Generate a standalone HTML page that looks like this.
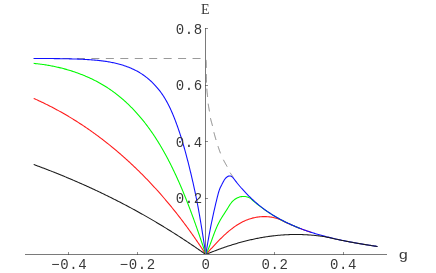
<!DOCTYPE html>
<html><head><meta charset="utf-8"><title>plot</title>
<style>
html,body{margin:0;padding:0;background:#fff;}
body{width:436px;height:273px;overflow:hidden;position:relative;font-family:"Liberation Mono",monospace;}
svg{position:absolute;left:0;top:0;will-change:transform;}
text{font-family:"Liberation Mono",monospace;font-size:14px;letter-spacing:0.6px;fill:#383838;}
</style></head><body>
<svg width="436" height="273" viewBox="0 0 436 273">
<rect width="436" height="273" fill="#fff"/>
<g fill="none" stroke="#9a9a9a" stroke-width="1">
<path d="M33.60,58.5 L41.60,58.5 M48.05,58.5 L56.05,58.5 M62.50,58.5 L70.50,58.5 M76.95,58.5 L84.95,58.5 M91.40,58.5 L99.40,58.5 M105.85,58.5 L113.85,58.5 M120.30,58.5 L128.30,58.5 M134.75,58.5 L142.75,58.5 M149.20,58.5 L157.20,58.5 M163.65,58.5 L171.65,58.5 M178.10,58.5 L186.10,58.5 M192.55,58.5 L200.55,58.5 "/>
</g>
<g fill="none" stroke-width="1.08" stroke-linejoin="round">
<path stroke="#ff1a1a" d="M33.70,98.40 L34.62,98.81 L35.54,99.22 L36.45,99.63 L37.37,100.05 L38.28,100.47 L39.19,100.89 L40.10,101.32 L41.01,101.74 L41.92,102.17 L42.83,102.61 L43.73,103.04 L44.63,103.48 L45.53,103.92 L46.43,104.37 L47.33,104.81 L48.23,105.26 L49.12,105.71 L50.01,106.17 L50.90,106.63 L51.79,107.09 L52.68,107.55 L53.57,108.02 L54.45,108.48 L55.34,108.95 L56.22,109.43 L57.10,109.90 L57.98,110.38 L58.85,110.86 L59.73,111.35 L60.60,111.83 L61.48,112.32 L62.35,112.82 L63.21,113.31 L64.08,113.81 L64.95,114.31 L65.81,114.81 L66.67,115.31 L67.54,115.82 L68.39,116.33 L69.25,116.84 L70.11,117.36 L70.96,117.87 L71.82,118.39 L72.67,118.91 L73.52,119.44 L74.36,119.97 L75.21,120.49 L76.06,121.03 L76.90,121.56 L77.74,122.10 L78.58,122.64 L79.42,123.18 L80.26,123.72 L81.09,124.27 L81.93,124.82 L82.76,125.37 L83.59,125.92 L84.42,126.48 L85.24,127.03 L86.07,127.60 L86.89,128.16 L87.72,128.72 L88.54,129.29 L89.36,129.86 L90.17,130.43 L90.99,131.01 L91.80,131.58 L92.62,132.16 L93.43,132.74 L94.24,133.33 L95.05,133.91 L95.85,134.50 L96.66,135.09 L97.46,135.68 L98.26,136.28 L99.06,136.87 L99.86,137.47 L100.66,138.07 L101.45,138.68 L102.24,139.28 L103.04,139.89 L103.83,140.50 L104.61,141.11 L105.40,141.72 L106.19,142.34 L106.97,142.96 L107.75,143.58 L108.53,144.20 L109.31,144.83 L110.09,145.45 L110.86,146.08 L111.64,146.71 L112.41,147.34 L113.18,147.98 L113.95,148.62 L114.72,149.25 L115.48,149.90 L116.25,150.54 L117.01,151.18 L117.77,151.83 L118.53,152.48 L119.29,153.13 L120.04,153.78 L120.80,154.44 L121.55,155.09 L122.30,155.75 L123.05,156.41 L123.80,157.08 L124.55,157.74 L125.29,158.41 L126.03,159.07 L126.78,159.75 L127.52,160.42 L128.25,161.09 L128.99,161.77 L129.72,162.44 L130.46,163.12 L131.19,163.81 L131.92,164.49 L132.65,165.17 L133.37,165.86 L134.10,166.55 L134.82,167.24 L135.55,167.93 L136.27,168.63 L136.98,169.32 L137.70,170.02 L138.42,170.72 L139.13,171.42 L139.84,172.12 L140.55,172.83 L141.26,173.53 L141.97,174.24 L142.67,174.95 L143.38,175.66 L144.08,176.37 L144.78,177.09 L145.48,177.81 L146.18,178.52 L146.87,179.24 L147.57,179.96 L148.26,180.69 L148.95,181.41 L149.64,182.14 L150.33,182.87 L151.01,183.59 L151.70,184.33 L152.38,185.06 L153.06,185.79 L153.74,186.53 L154.42,187.27 L155.09,188.00 L155.77,188.74 L156.44,189.49 L157.11,190.23 L157.78,190.98 L158.45,191.72 L159.11,192.47 L159.78,193.22 L160.44,193.97 L161.10,194.72 L161.76,195.48 L162.42,196.23 L163.08,196.99 L163.73,197.75 L164.38,198.51 L165.03,199.27 L165.68,200.03 L166.33,200.79 L166.98,201.56 L167.62,202.33 L168.27,203.09 L168.91,203.86 L169.55,204.63 L170.19,205.41 L170.82,206.18 L171.46,206.95 L172.09,207.73 L172.72,208.51 L173.35,209.29 L173.98,210.07 L174.61,210.85 L175.23,211.63 L175.85,212.41 L176.48,213.20 L177.10,213.99 L177.71,214.77 L178.33,215.56 L178.94,216.35 L179.56,217.14 L180.17,217.94 L180.78,218.73 L181.39,219.52 L181.99,220.32 L182.60,221.12 L183.20,221.92 L183.80,222.72 L184.40,223.52 L185.00,224.32 L185.60,225.12 L186.19,225.93 L186.79,226.73 L187.38,227.54 L187.97,228.35 L188.56,229.16 L189.14,229.97 L189.73,230.78 L190.31,231.59 L190.89,232.40 L191.47,233.22 L192.05,234.03 L192.63,234.85 L193.20,235.66 L193.78,236.48 L194.35,237.30 L194.92,238.12 L195.49,238.94 L196.05,239.76 L196.62,240.59 L197.18,241.41 L197.74,242.24 L198.30,243.06 L198.86,243.89 L199.42,244.72 L199.97,245.55 L200.53,246.38 L201.08,247.21 L201.63,248.04 L202.18,248.87 L202.72,249.70 L203.27,250.54 L203.81,251.37 L204.35,252.21 L204.89,253.05 L205.43,253.88 L205.83,254.50 M205.83,254.50 L206.48,253.79 L207.14,253.08 L207.79,252.37 L208.45,251.65 L209.11,250.93 L209.77,250.20 L210.44,249.47 L211.11,248.74 L211.78,248.01 L212.46,247.27 L213.14,246.54 L213.82,245.80 L214.50,245.06 L215.19,244.33 L215.88,243.59 L216.58,242.86 L217.28,242.12 L217.98,241.39 L218.69,240.66 L219.40,239.94 L220.12,239.22 L220.84,238.50 L221.56,237.78 L222.29,237.07 L223.03,236.37 L223.77,235.67 L224.51,234.97 L225.26,234.29 L226.01,233.61 L226.77,232.93 L227.53,232.27 L228.30,231.61 L229.07,230.96 L229.85,230.32 L230.64,229.68 L231.43,229.06 L232.22,228.45 L233.03,227.85 L233.83,227.26 L234.65,226.68 L235.47,226.11 L236.29,225.55 L237.13,225.01 L237.97,224.48 L238.81,223.97 L239.67,223.46 L240.52,222.98 L241.39,222.50 L242.26,222.04 L243.14,221.60 L244.03,221.18 L244.93,220.77 L245.83,220.37 L246.74,220.00 L247.65,219.64 L248.58,219.30 L249.51,218.98 L250.45,218.68 L251.40,218.40 L252.35,218.13 L253.32,217.89 L254.28,217.67 L255.26,217.47 L256.24,217.28 L257.22,217.12 L258.21,216.98 L259.21,216.86 L260.20,216.77 L261.20,216.69 L262.20,216.64 L263.21,216.60 L264.21,216.59 L265.21,216.60 L266.22,216.64 L267.22,216.69 L268.22,216.77 L269.22,216.87 L270.22,217.00 L271.22,217.15 L272.21,217.32 L273.20,217.52 L274.18,217.74 L275.16,217.98 L276.13,218.25 L277.10,218.54 L278.06,218.86 L279.02,219.20 L279.96,219.57 L280.90,219.96 L281.00,220.00 L282.00,220.60 L283.00,221.08 L284.00,221.55 L285.00,222.02 L286.00,222.49 L287.00,222.94 L288.00,223.40 L289.00,223.85 L290.00,224.29 L291.00,224.73 L292.00,225.16 L293.00,225.59 L294.00,226.01 L295.00,226.42 L296.00,226.83 L297.00,227.23 L298.00,227.63 L299.00,228.02 L300.00,228.40 L301.00,228.78 L302.00,229.16 L303.00,229.52 L304.00,229.89 L305.00,230.24 L306.00,230.60 L307.00,230.94 L308.00,231.28 L309.00,231.62 L310.00,231.95 L311.00,232.28 L312.00,232.60"/>
<path stroke="#00fa00" d="M33.70,63.40 L34.69,63.50 L35.69,63.60 L36.69,63.71 L37.68,63.82 L38.68,63.93 L39.67,64.05 L40.67,64.18 L41.66,64.31 L42.66,64.45 L43.65,64.59 L44.65,64.74 L45.64,64.90 L46.63,65.06 L47.62,65.22 L48.61,65.39 L49.60,65.57 L50.59,65.75 L51.58,65.93 L52.57,66.13 L53.56,66.32 L54.54,66.53 L55.53,66.73 L56.51,66.95 L57.49,67.17 L58.47,67.39 L59.45,67.62 L60.43,67.86 L61.41,68.10 L62.38,68.35 L63.35,68.60 L64.33,68.86 L65.30,69.12 L66.27,69.39 L67.23,69.67 L68.20,69.95 L69.16,70.24 L70.12,70.53 L71.08,70.83 L72.04,71.13 L72.99,71.44 L73.95,71.76 L74.90,72.08 L75.85,72.40 L76.79,72.74 L77.74,73.08 L78.68,73.42 L79.62,73.77 L80.55,74.13 L81.49,74.49 L82.42,74.85 L83.35,75.23 L84.27,75.61 L85.20,75.99 L86.12,76.38 L87.04,76.78 L87.95,77.18 L88.86,77.59 L89.77,78.01 L90.67,78.43 L91.58,78.85 L92.48,79.29 L93.37,79.73 L94.26,80.17 L95.15,80.62 L96.04,81.08 L96.92,81.54 L97.80,82.01 L98.67,82.49 L99.54,82.97 L100.41,83.45 L101.27,83.95 L102.13,84.45 L102.99,84.95 L103.84,85.46 L104.69,85.98 L105.53,86.51 L106.37,87.04 L107.21,87.57 L108.04,88.11 L108.86,88.66 L109.69,89.22 L110.50,89.78 L111.32,90.35 L112.13,90.92 L112.93,91.50 L113.73,92.08 L114.53,92.67 L115.32,93.27 L116.11,93.87 L116.90,94.48 L117.68,95.09 L118.45,95.71 L119.23,96.33 L119.99,96.96 L120.76,97.60 L121.51,98.24 L122.27,98.88 L123.02,99.53 L123.77,100.19 L124.51,100.85 L125.25,101.52 L125.98,102.19 L126.71,102.86 L127.44,103.54 L128.16,104.23 L128.87,104.92 L129.59,105.61 L130.29,106.31 L131.00,107.01 L131.70,107.72 L132.39,108.43 L133.09,109.15 L133.77,109.87 L134.46,110.60 L135.14,111.33 L135.81,112.06 L136.48,112.80 L137.15,113.54 L137.81,114.28 L138.47,115.03 L139.12,115.79 L139.77,116.55 L140.42,117.31 L141.06,118.07 L141.70,118.84 L142.33,119.61 L142.96,120.39 L143.59,121.16 L144.21,121.95 L144.82,122.73 L145.44,123.52 L146.05,124.31 L146.65,125.11 L147.25,125.91 L147.85,126.71 L148.44,127.52 L149.03,128.32 L149.62,129.13 L150.20,129.95 L150.78,130.77 L151.35,131.59 L151.92,132.41 L152.49,133.23 L153.05,134.06 L153.61,134.89 L154.17,135.73 L154.72,136.57 L155.27,137.40 L155.82,138.25 L156.36,139.09 L156.90,139.94 L157.43,140.79 L157.96,141.64 L158.49,142.49 L159.02,143.35 L159.54,144.21 L160.06,145.07 L160.57,145.93 L161.08,146.80 L161.59,147.66 L162.10,148.53 L162.60,149.40 L163.10,150.28 L163.59,151.15 L164.09,152.03 L164.57,152.91 L165.06,153.79 L165.55,154.67 L166.03,155.56 L166.50,156.44 L166.98,157.33 L167.45,158.22 L167.92,159.11 L168.38,160.00 L168.85,160.89 L169.31,161.79 L169.77,162.68 L170.22,163.58 L170.67,164.48 L171.12,165.38 L171.57,166.28 L172.01,167.18 L172.46,168.09 L172.89,168.99 L173.33,169.89 L173.77,170.80 L174.20,171.71 L174.63,172.62 L175.05,173.52 L175.48,174.43 L175.90,175.34 L176.32,176.26 L176.74,177.17 L177.15,178.08 L177.56,178.99 L177.97,179.91 L178.38,180.82 L178.79,181.73 L179.19,182.65 L179.59,183.56 L179.99,184.48 L180.39,185.40 L180.78,186.31 L181.18,187.23 L181.57,188.15 L181.96,189.07 L182.34,189.99 L182.73,190.91 L183.11,191.83 L183.49,192.75 L183.87,193.67 L184.25,194.59 L184.63,195.52 L185.00,196.44 L185.38,197.36 L185.75,198.29 L186.12,199.21 L186.48,200.14 L186.85,201.06 L187.21,201.99 L187.58,202.91 L187.94,203.84 L188.30,204.77 L188.66,205.70 L189.01,206.63 L189.37,207.56 L189.72,208.49 L190.07,209.42 L190.42,210.35 L190.77,211.28 L191.12,212.21 L191.47,213.14 L191.82,214.08 L192.16,215.01 L192.50,215.94 L192.85,216.88 L193.19,217.81 L193.53,218.75 L193.87,219.69 L194.21,220.62 L194.54,221.56 L194.88,222.50 L195.21,223.44 L195.55,224.37 L195.88,225.31 L196.21,226.25 L196.54,227.19 L196.87,228.13 L197.20,229.08 L197.53,230.02 L197.86,230.96 L198.19,231.90 L198.51,232.85 L198.84,233.79 L199.17,234.73 L199.49,235.68 L199.81,236.62 L200.14,237.57 L200.46,238.52 L200.78,239.46 L201.10,240.41 L201.43,241.36 L201.75,242.31 L202.07,243.26 L202.39,244.21 L202.71,245.16 L203.03,246.11 L203.35,247.06 L203.67,248.01 L203.98,248.96 L204.30,249.91 L204.62,250.87 L204.94,251.82 L205.26,252.77 L205.58,253.73 L205.83,254.50 M205.83,254.50 L206.27,253.60 L206.70,252.70 L207.12,251.79 L207.53,250.88 L207.92,249.96 L208.31,249.04 L208.70,248.11 L209.07,247.19 L209.44,246.25 L209.80,245.32 L210.16,244.39 L210.51,243.45 L210.86,242.51 L211.21,241.57 L211.55,240.63 L211.90,239.69 L212.24,238.74 L212.58,237.80 L212.93,236.86 L213.27,235.92 L213.62,234.98 L213.97,234.04 L214.32,233.11 L214.68,232.18 L215.05,231.24 L215.42,230.32 L215.79,229.39 L216.17,228.47 L216.57,227.55 L216.97,226.64 L217.38,225.73 L217.79,224.83 L218.23,223.93 L218.67,223.03 L219.12,222.15 L219.59,221.27 L220.07,220.39 L220.57,219.52 L221.08,218.66 L221.60,217.81 L222.13,216.96 L222.66,216.11 L223.21,215.26 L223.75,214.42 L224.30,213.58 L224.85,212.74 L225.40,211.90 L225.94,211.06 L226.48,210.22 L227.01,209.37 L227.54,208.52 L228.05,207.67 L228.57,206.81 L229.09,205.97 L229.62,205.13 L230.18,204.31 L230.76,203.50 L231.37,202.72 L232.01,201.96 L232.69,201.23 L233.40,200.54 L234.16,199.89 L234.96,199.29 L235.79,198.73 L236.66,198.22 L237.55,197.78 L238.48,197.39 L239.43,197.06 L240.39,196.80 L241.37,196.61 L242.36,196.48 L243.35,196.42 L244.34,196.43 L245.33,196.52 L246.30,196.68 L247.26,196.92 L248.19,197.23 L249.10,197.63 L249.98,198.10 L250.83,198.67 L251.63,199.32 L252.40,200.05 L252.80,200.50 L253.80,201.23 L254.80,202.09 L255.80,202.93 L256.80,203.76 L257.80,204.57 L258.80,205.37 L259.80,206.15 L260.80,206.92 L261.80,207.68 L262.80,208.42 L263.80,209.14 L264.80,209.85 L265.80,210.55 L266.80,211.24 L267.80,211.92 L268.80,212.58 L269.80,213.23 L270.80,213.87 L271.80,214.49 L272.80,215.11 L273.80,215.71 L274.80,216.31 L275.80,216.89 L276.80,217.47 L277.80,218.03 L278.80,218.58 L279.80,219.13 L280.80,219.66 L281.80,220.19 L282.80,220.71 L283.80,221.22 L284.80,221.72 L285.80,222.21 L286.80,222.69 L287.80,223.17 L288.80,223.63 L289.80,224.09 L290.80,224.55 L291.80,224.99 L292.80,225.43 L293.80,225.86 L294.80,226.28 L295.80,226.70 L296.80,227.11 L297.80,227.51 L298.80,227.91 L299.80,228.30 L300.00,228.38"/>
<path stroke="#1010ff" d="M33.70,58.50 L34.67,58.50 L35.63,58.50 L36.60,58.51 L37.57,58.51 L38.55,58.51 L39.53,58.51 L40.50,58.52 L41.48,58.52 L42.47,58.52 L43.45,58.53 L44.44,58.53 L45.43,58.53 L46.42,58.54 L47.41,58.54 L48.41,58.55 L49.40,58.55 L50.40,58.56 L51.40,58.57 L52.40,58.58 L53.40,58.58 L54.40,58.59 L55.41,58.60 L56.41,58.61 L57.42,58.63 L58.43,58.64 L59.44,58.65 L60.45,58.67 L61.46,58.68 L62.47,58.70 L63.48,58.72 L64.50,58.73 L65.51,58.75 L66.52,58.78 L67.54,58.80 L68.55,58.82 L69.57,58.85 L70.59,58.88 L71.60,58.90 L72.62,58.93 L73.64,58.96 L74.65,59.00 L75.67,59.03 L76.69,59.07 L77.70,59.11 L78.72,59.15 L79.74,59.19 L80.75,59.23 L81.77,59.28 L82.79,59.32 L83.80,59.37 L84.81,59.42 L85.83,59.48 L86.84,59.54 L87.85,59.60 L88.87,59.66 L89.88,59.72 L90.89,59.79 L91.90,59.87 L92.90,59.94 L93.91,60.03 L94.92,60.11 L95.92,60.20 L96.92,60.30 L97.92,60.39 L98.93,60.50 L99.92,60.61 L100.92,60.72 L101.92,60.85 L102.91,60.97 L103.90,61.11 L104.89,61.25 L105.88,61.39 L106.87,61.54 L107.85,61.70 L108.84,61.87 L109.82,62.04 L110.80,62.22 L111.77,62.41 L112.75,62.61 L113.72,62.81 L114.69,63.03 L115.65,63.25 L116.62,63.48 L117.58,63.72 L118.54,63.97 L119.49,64.22 L120.44,64.49 L121.40,64.77 L122.34,65.05 L123.29,65.35 L124.23,65.66 L125.16,65.97 L126.10,66.30 L127.03,66.64 L127.95,66.99 L128.87,67.35 L129.79,67.72 L130.70,68.10 L131.61,68.49 L132.51,68.90 L133.41,69.32 L134.30,69.74 L135.19,70.18 L136.07,70.64 L136.94,71.10 L137.81,71.58 L138.67,72.07 L139.53,72.57 L140.38,73.09 L141.22,73.61 L142.06,74.16 L142.89,74.71 L143.71,75.28 L144.52,75.86 L145.33,76.46 L146.13,77.07 L146.92,77.69 L147.70,78.32 L148.47,78.97 L149.24,79.63 L150.00,80.30 L150.74,80.98 L151.48,81.67 L152.21,82.37 L152.93,83.08 L153.64,83.80 L154.34,84.53 L155.04,85.27 L155.72,86.02 L156.39,86.77 L157.05,87.53 L157.70,88.30 L158.33,89.08 L158.96,89.86 L159.58,90.65 L160.18,91.44 L160.78,92.24 L161.36,93.05 L161.93,93.86 L162.49,94.67 L163.04,95.49 L163.57,96.32 L164.10,97.15 L164.62,97.98 L165.13,98.82 L165.63,99.67 L166.12,100.51 L166.60,101.37 L167.07,102.22 L167.54,103.08 L167.99,103.95 L168.44,104.82 L168.88,105.69 L169.32,106.57 L169.75,107.45 L170.17,108.33 L170.58,109.22 L170.99,110.11 L171.39,111.01 L171.79,111.91 L172.18,112.81 L172.57,113.72 L172.95,114.63 L173.32,115.54 L173.70,116.46 L174.07,117.38 L174.43,118.30 L174.79,119.22 L175.15,120.15 L175.51,121.08 L175.86,122.01 L176.21,122.95 L176.55,123.89 L176.90,124.83 L177.24,125.77 L177.57,126.72 L177.91,127.67 L178.24,128.62 L178.56,129.57 L178.89,130.52 L179.21,131.48 L179.53,132.44 L179.85,133.40 L180.16,134.36 L180.47,135.33 L180.78,136.29 L181.08,137.26 L181.39,138.23 L181.69,139.20 L181.98,140.17 L182.28,141.14 L182.57,142.11 L182.86,143.09 L183.15,144.07 L183.43,145.04 L183.72,146.02 L184.00,147.00 L184.28,147.98 L184.55,148.96 L184.83,149.94 L185.10,150.92 L185.37,151.90 L185.64,152.88 L185.91,153.87 L186.17,154.85 L186.43,155.83 L186.69,156.82 L186.95,157.80 L187.21,158.78 L187.46,159.76 L187.72,160.75 L187.97,161.73 L188.22,162.71 L188.47,163.69 L188.71,164.67 L188.96,165.66 L189.20,166.64 L189.45,167.61 L189.69,168.59 L189.93,169.57 L190.16,170.55 L190.40,171.53 L190.64,172.50 L190.87,173.48 L191.10,174.45 L191.33,175.43 L191.56,176.40 L191.79,177.37 L192.02,178.35 L192.24,179.32 L192.46,180.29 L192.69,181.26 L192.91,182.23 L193.13,183.20 L193.34,184.17 L193.56,185.14 L193.77,186.11 L193.99,187.08 L194.20,188.05 L194.41,189.02 L194.62,189.99 L194.82,190.96 L195.03,191.93 L195.23,192.90 L195.44,193.87 L195.64,194.84 L195.84,195.80 L196.03,196.77 L196.23,197.74 L196.43,198.71 L196.62,199.68 L196.81,200.65 L197.00,201.62 L197.19,202.59 L197.38,203.56 L197.56,204.52 L197.75,205.49 L197.93,206.46 L198.11,207.43 L198.29,208.41 L198.47,209.38 L198.64,210.35 L198.82,211.32 L198.99,212.29 L199.17,213.26 L199.34,214.24 L199.51,215.21 L199.68,216.18 L199.85,217.16 L200.01,218.13 L200.18,219.11 L200.35,220.08 L200.51,221.06 L200.68,222.04 L200.84,223.02 L201.00,224.00 L201.16,224.98 L201.32,225.96 L201.48,226.94 L201.64,227.92 L201.80,228.90 L201.96,229.89 L202.12,230.87 L202.28,231.85 L202.43,232.84 L202.59,233.83 L202.75,234.82 L202.90,235.81 L203.06,236.80 L203.22,237.79 L203.37,238.78 L203.53,239.77 L203.68,240.77 L203.84,241.76 L204.00,242.76 L204.15,243.76 L204.31,244.76 L204.46,245.76 L204.62,246.76 L204.78,247.76 L204.93,248.77 L205.09,249.77 L205.25,250.78 L205.40,251.79 L205.56,252.80 L205.72,253.81 L205.83,254.50 M205.83,254.50 L205.98,253.53 L206.13,252.55 L206.29,251.57 L206.44,250.60 L206.60,249.62 L206.76,248.64 L206.92,247.66 L207.08,246.68 L207.25,245.69 L207.41,244.71 L207.58,243.73 L207.75,242.74 L207.92,241.76 L208.09,240.77 L208.27,239.78 L208.44,238.80 L208.62,237.81 L208.80,236.82 L208.98,235.83 L209.16,234.85 L209.35,233.86 L209.53,232.87 L209.72,231.88 L209.91,230.89 L210.10,229.91 L210.29,228.92 L210.49,227.93 L210.68,226.94 L210.88,225.95 L211.07,224.97 L211.27,223.98 L211.47,222.99 L211.68,222.01 L211.88,221.02 L212.09,220.04 L212.29,219.05 L212.50,218.07 L212.71,217.09 L212.92,216.11 L213.13,215.13 L213.35,214.15 L213.56,213.17 L213.78,212.19 L214.00,211.21 L214.22,210.24 L214.44,209.26 L214.66,208.29 L214.88,207.32 L215.11,206.35 L215.34,205.38 L215.56,204.41 L215.79,203.44 L216.02,202.48 L216.25,201.52 L216.49,200.56 L216.72,199.60 L216.96,198.64 L217.19,197.69 L217.43,196.73 L217.67,195.78 L217.91,194.83 L218.16,193.88 L218.41,192.94 L218.68,192.00 L218.98,191.06 L219.29,190.12 L219.63,189.18 L220.01,188.25 L220.42,187.32 L220.88,186.39 L221.36,185.46 L221.86,184.54 L222.33,183.62 L222.80,182.71 L223.26,181.80 L223.74,180.92 L224.25,180.07 L224.81,179.24 L225.43,178.46 L226.13,177.72 L226.90,177.05 L227.72,176.49 L228.60,176.11 L229.49,175.93 L230.39,175.97 L231.24,176.23 L232.03,176.71 L232.74,177.35 L233.40,178.12 L234.02,178.95 L234.63,179.80 L235.24,180.62 L235.85,181.42 L236.47,182.20 L237.08,182.97 L237.70,183.73 L238.33,184.49 L238.96,185.24 L239.60,185.99 L240.24,186.74 L240.89,187.49 L241.54,188.24 L242.20,188.98 L242.87,189.72 L243.54,190.46 L244.22,191.20 L244.90,191.93 L245.59,192.67 L246.28,193.39 L246.98,194.12 L247.68,194.84 L248.39,195.56 L249.11,196.27 L249.83,196.98 L250.55,197.68 L251.28,198.38 L252.01,199.08 L252.75,199.76 L253.50,200.45 L254.25,201.13 L255.00,201.80 L255.76,202.47 L256.52,203.13 L257.29,203.78 L258.06,204.43 L258.84,205.07 L259.62,205.70 L260.40,206.33 L261.19,206.95 L261.99,207.56 L262.79,208.17 L263.59,208.76 L264.39,209.36 L265.20,209.94 L266.02,210.52 L266.84,211.10 L267.66,211.66 L268.49,212.22 L269.32,212.78 L270.15,213.32 L270.99,213.86 L271.83,214.40 L272.67,214.93 L273.52,215.45 L274.37,215.96 L275.23,216.47 L276.09,216.98 L276.95,217.48 L277.81,217.97 L278.68,218.46 L279.55,218.94 L280.43,219.41 L281.30,219.88 L282.18,220.34 L283.07,220.80 L283.95,221.25 L284.84,221.70 L285.74,222.14 L286.63,222.58 L287.53,223.01 L288.43,223.43 L289.33,223.85 L290.24,224.27 L291.14,224.68 L292.05,225.08 L292.97,225.48 L293.88,225.87 L294.80,226.26 L295.72,226.65 L296.64,227.03 L297.56,227.40 L298.49,227.77 L299.42,228.14 L300.35,228.50 L301.28,228.85 L302.21,229.21 L303.15,229.55 L304.08,229.89 L305.02,230.23 L305.96,230.57 L306.91,230.90 L307.85,231.22 L308.80,231.54 L309.75,231.86 L310.70,232.17 L311.65,232.48 L312.60,232.78 L313.56,233.08 L314.51,233.38 L315.47,233.67 L316.43,233.96 L317.39,234.24 L318.35,234.53 L319.31,234.80 L320.28,235.08 L321.24,235.35 L322.21,235.61 L323.18,235.88 L324.14,236.14 L325.11,236.39 L326.09,236.65 L327.06,236.90 L328.03,237.14 L329.00,237.39 L329.98,237.63 L330.96,237.86 L331.93,238.10 L332.91,238.33 L333.89,238.56 L334.87,238.78 L335.85,239.00 L336.83,239.22 L337.81,239.44 L338.79,239.66 L339.77,239.87 L340.76,240.08 L341.74,240.28 L342.72,240.49 L343.71,240.69 L344.69,240.89 L345.68,241.08 L346.66,241.28 L347.65,241.47 L348.63,241.66 L349.62,241.85 L350.61,242.04 L351.59,242.22 L352.58,242.40 L353.57,242.58 L354.55,242.76 L355.54,242.94 L356.53,243.11 L357.51,243.28 L358.50,243.45 L359.49,243.62 L360.47,243.79 L361.46,243.96 L362.44,244.12 L363.43,244.29 L364.41,244.45 L365.40,244.61 L366.38,244.77 L367.37,244.93 L368.35,245.08 L369.33,245.24 L370.32,245.39 L371.30,245.55 L372.28,245.70 L373.26,245.85 L374.24,246.00 L375.22,246.15 L376.20,246.30 L377.18,246.45 L377.50,246.50"/>
<path stroke="#1a1a1a" stroke-width="1.05" d="M33.70,164.50 L34.64,164.85 L35.58,165.19 L36.52,165.54 L37.46,165.89 L38.40,166.24 L39.34,166.59 L40.27,166.94 L41.21,167.29 L42.15,167.65 L43.09,168.00 L44.02,168.36 L44.96,168.72 L45.89,169.07 L46.83,169.43 L47.76,169.79 L48.69,170.16 L49.63,170.52 L50.56,170.88 L51.49,171.25 L52.42,171.62 L53.35,171.98 L54.28,172.35 L55.21,172.72 L56.14,173.09 L57.07,173.47 L58.00,173.84 L58.93,174.22 L59.85,174.59 L60.78,174.97 L61.71,175.35 L62.63,175.73 L63.56,176.11 L64.48,176.49 L65.40,176.87 L66.33,177.26 L67.25,177.64 L68.17,178.03 L69.09,178.42 L70.01,178.81 L70.94,179.20 L71.86,179.59 L72.77,179.98 L73.69,180.37 L74.61,180.77 L75.53,181.16 L76.45,181.56 L77.36,181.96 L78.28,182.36 L79.19,182.76 L80.11,183.16 L81.02,183.57 L81.94,183.97 L82.85,184.38 L83.76,184.78 L84.68,185.19 L85.59,185.60 L86.50,186.01 L87.41,186.43 L88.32,186.84 L89.23,187.25 L90.14,187.67 L91.04,188.09 L91.95,188.50 L92.86,188.92 L93.76,189.34 L94.67,189.77 L95.57,190.19 L96.48,190.61 L97.38,191.04 L98.29,191.46 L99.19,191.89 L100.09,192.32 L100.99,192.75 L101.89,193.18 L102.79,193.62 L103.69,194.05 L104.59,194.49 L105.49,194.92 L106.39,195.36 L107.29,195.80 L108.18,196.24 L109.08,196.68 L109.97,197.13 L110.87,197.57 L111.76,198.01 L112.66,198.46 L113.55,198.91 L114.44,199.36 L115.33,199.81 L116.22,200.26 L117.11,200.71 L118.00,201.17 L118.89,201.62 L119.78,202.08 L120.67,202.54 L121.56,203.00 L122.44,203.46 L123.33,203.92 L124.21,204.38 L125.10,204.85 L125.98,205.32 L126.86,205.78 L127.75,206.25 L128.63,206.72 L129.51,207.19 L130.39,207.66 L131.27,208.14 L132.15,208.61 L133.03,209.09 L133.91,209.57 L134.78,210.04 L135.66,210.52 L136.54,211.01 L137.41,211.49 L138.29,211.97 L139.16,212.46 L140.03,212.94 L140.91,213.43 L141.78,213.92 L142.65,214.41 L143.52,214.90 L144.39,215.40 L145.26,215.89 L146.13,216.39 L147.00,216.88 L147.86,217.38 L148.73,217.88 L149.60,218.38 L150.46,218.88 L151.33,219.39 L152.19,219.89 L153.05,220.40 L153.92,220.90 L154.78,221.41 L155.64,221.92 L156.50,222.43 L157.36,222.94 L158.22,223.46 L159.08,223.97 L159.93,224.49 L160.79,225.00 L161.65,225.52 L162.50,226.04 L163.36,226.56 L164.21,227.08 L165.06,227.61 L165.92,228.13 L166.77,228.65 L167.62,229.18 L168.47,229.71 L169.32,230.24 L170.17,230.77 L171.02,231.30 L171.86,231.83 L172.71,232.36 L173.56,232.90 L174.40,233.43 L175.25,233.97 L176.09,234.51 L176.93,235.05 L177.78,235.59 L178.62,236.13 L179.46,236.67 L180.30,237.21 L181.14,237.76 L181.98,238.30 L182.81,238.85 L183.65,239.40 L184.49,239.95 L185.32,240.50 L186.16,241.05 L186.99,241.60 L187.82,242.16 L188.66,242.71 L189.49,243.27 L190.32,243.82 L191.15,244.38 L191.98,244.94 L192.81,245.50 L193.64,246.06 L194.46,246.62 L195.29,247.19 L196.12,247.75 L196.94,248.31 L197.77,248.88 L198.59,249.45 L199.41,250.02 L200.23,250.59 L201.05,251.16 L201.87,251.73 L202.69,252.30 L203.51,252.87 L204.33,253.45 L205.15,254.02 L205.83,254.50 M205.83,254.50 L206.75,254.12 L207.67,253.73 L208.59,253.35 L209.51,252.97 L210.43,252.60 L211.36,252.23 L212.29,251.86 L213.22,251.49 L214.15,251.13 L215.08,250.77 L216.01,250.41 L216.94,250.06 L217.88,249.71 L218.82,249.36 L219.76,249.01 L220.70,248.67 L221.64,248.33 L222.58,248.00 L223.53,247.67 L224.47,247.34 L225.42,247.01 L226.37,246.69 L227.32,246.37 L228.27,246.06 L229.22,245.74 L230.17,245.44 L231.13,245.13 L232.08,244.83 L233.04,244.53 L234.00,244.24 L234.96,243.95 L235.92,243.66 L236.88,243.38 L237.84,243.10 L238.80,242.83 L239.77,242.56 L240.73,242.29 L241.70,242.03 L242.67,241.77 L243.64,241.51 L244.61,241.26 L245.58,241.01 L246.55,240.77 L247.52,240.53 L248.50,240.30 L249.47,240.06 L250.45,239.84 L251.42,239.62 L252.40,239.40 L253.38,239.18 L254.36,238.97 L255.34,238.77 L256.32,238.57 L257.30,238.37 L258.28,238.18 L259.26,238.00 L260.24,237.81 L261.23,237.63 L262.21,237.46 L263.20,237.29 L264.18,237.13 L265.17,236.97 L266.16,236.82 L267.15,236.67 L268.13,236.52 L269.12,236.38 L270.11,236.25 L271.10,236.12 L272.09,235.99 L273.08,235.87 L274.07,235.76 L275.07,235.65 L276.06,235.54 L277.05,235.44 L278.05,235.35 L279.04,235.26 L280.03,235.17 L281.03,235.09 L282.02,235.02 L283.02,234.95 L284.01,234.88 L285.01,234.82 L286.00,234.77 L287.00,234.72 L288.00,234.67 L288.99,234.63 L289.99,234.60 L290.99,234.57 L291.98,234.55 L292.98,234.53 L293.98,234.52 L294.98,234.51 L295.97,234.50 L296.97,234.51 L297.97,234.51 L298.97,234.53 L299.97,234.54 L300.96,234.57 L301.96,234.60 L302.96,234.63 L303.96,234.67 L304.96,234.71 L305.95,234.76 L306.95,234.82 L307.95,234.88 L308.95,234.94 L309.94,235.01 L310.94,235.09 L311.94,235.17 L312.94,235.26 L313.93,235.35 L314.93,235.45 L315.93,235.55 L316.92,235.66 L317.92,235.77 L318.91,235.89 L319.91,236.02 L320.90,236.15 L321.90,236.28 L322.89,236.42 L323.89,236.57 L324.88,236.72 L325.88,236.88 L326.00,236.90 L327.00,237.15 L328.00,237.38 L329.00,237.61 L330.00,237.83 L331.00,238.06 L332.00,238.28 L333.00,238.50 L334.00,238.72 L335.00,238.93 L336.00,239.15 L337.00,239.36 L338.00,239.57 L339.00,239.78 L340.00,239.99 L341.00,240.19 L342.00,240.40 L343.00,240.60 L344.00,240.80 L345.00,240.99 L346.00,241.19 L347.00,241.38 L348.00,241.57 L349.00,241.76 L350.00,241.95 L351.00,242.13 L352.00,242.32 L353.00,242.50 L354.00,242.68 L355.00,242.86 L356.00,243.03 L357.00,243.21 L358.00,243.38 L359.00,243.55 L360.00,243.72 L361.00,243.89 L362.00,244.06 L363.00,244.22 L364.00,244.39 L365.00,244.55 L366.00,244.71 L367.00,244.87 L368.00,245.03 L369.00,245.19 L370.00,245.35 L371.00,245.51 L372.00,245.66 L373.00,245.82 L374.00,245.97 L375.00,246.12 L376.00,246.28 L377.00,246.43 L377.50,246.50"/>
</g>
<g fill="none" stroke="#858585" stroke-width="1">
<path d="M206.02,59.90 L206.08,60.62 L206.13,61.34 L206.18,62.05 L206.22,62.77 L206.25,63.49 L206.26,64.21 L206.27,64.93 L206.28,65.65 L206.29,66.36 L206.30,67.08 L206.31,67.80 M206.35,74.20 L206.36,74.95 L206.36,75.71 L206.37,76.46 L206.38,77.22 L206.39,77.97 L206.41,78.73 L206.42,79.48 L206.44,80.24 L206.46,80.99 L206.48,81.75 L206.51,82.50 M206.80,88.70 L206.85,89.45 L206.91,90.19 L206.97,90.94 L207.04,91.68 L207.12,92.43 L207.20,93.17 L207.29,93.92 L207.37,94.66 L207.45,95.41 L207.53,96.15 L207.60,96.90 M208.20,103.70 L208.29,104.40 L208.38,105.10 L208.49,105.80 L208.60,106.50 L208.72,107.20 L208.84,107.90 L208.97,108.60 L209.09,109.30 L209.22,110.00 L209.34,110.70 L209.45,111.40 M210.50,118.20 L210.64,118.90 L210.81,119.60 L210.98,120.30 L211.17,121.00 L211.36,121.70 L211.56,122.40 L211.76,123.10 L211.95,123.80 L212.14,124.50 L212.33,125.20 L212.50,125.90 M213.90,132.30 L214.07,133.00 L214.25,133.70 L214.44,134.40 L214.63,135.10 L214.83,135.80 L215.02,136.50 L215.23,137.20 L215.43,137.90 L215.64,138.60 L215.84,139.30 L216.05,140.00 M218.00,146.20 L218.21,146.85 L218.43,147.49 L218.64,148.14 L218.86,148.78 L219.08,149.43 L219.31,150.07 L219.53,150.72 L219.77,151.36 L220.01,152.01 L220.25,152.65 L220.50,153.30 M223.40,159.80 L223.71,160.42 L224.03,161.04 L224.37,161.65 L224.71,162.27 L225.05,162.89 L225.40,163.51 L225.75,164.13 L226.10,164.75 L226.44,165.36 L226.78,165.98 L227.10,166.60 M230.10,172.70 L230.34,173.09 L230.60,173.48 L230.87,173.87 L231.16,174.26 L231.44,174.65 L231.73,175.05 L232.01,175.44 L232.28,175.83 L232.53,176.22 L232.76,176.61 L232.98,177.00 "/>
</g>
<g fill="#7a7a7a" shape-rendering="crispEdges">
<rect x="25" y="254" width="362" height="1"/>
<rect x="205" y="28" width="1" height="227"/>
</g>
<g fill="#8c8c8c" shape-rendering="crispEdges">
<rect x="68" y="252" width="1" height="2"/>
<rect x="137" y="252" width="1" height="2"/>
<rect x="274" y="252" width="1" height="2"/>
<rect x="343" y="252" width="1" height="2"/>
<rect x="206" y="28" width="2" height="1"/>
<rect x="206" y="85" width="2" height="1"/>
<rect x="206" y="141" width="2" height="1"/>
<rect x="206" y="198" width="2" height="1"/>
</g>
<g fill="#555" shape-rendering="crispEdges">
<rect x="68" y="254" width="1" height="1"/><rect x="137" y="254" width="1" height="1"/><rect x="274" y="254" width="1" height="1"/><rect x="343" y="254" width="1" height="1"/>
<rect x="205" y="28" width="1" height="1"/><rect x="205" y="85" width="1" height="1"/><rect x="205" y="141" width="1" height="1"/><rect x="205" y="198" width="1" height="1"/>
</g>
<g text-anchor="middle">
<text x="69.2" y="268.6">−0.4</text>
<text x="137.8" y="268.6">−0.2</text>
<text x="206.1" y="268.6">0</text>
<text x="274.9" y="268.6">0.2</text>
<text x="343.5" y="268.6">0.4</text>
<text transform="translate(403.2,258.8) scale(1.14,0.9)" x="0" y="0" style="letter-spacing:0">g</text>
<text x="205.3" y="14" style="font-family:'Liberation Serif',serif;font-size:14px;letter-spacing:0">E</text>
</g>
<g text-anchor="end">
<text x="202.7" y="33.7">0.8</text>
<text x="202.7" y="90.2">0.6</text>
<text x="202.7" y="146.6">0.4</text>
<text x="202.7" y="203.1">0.2</text>
</g>
</svg>
</body></html>
